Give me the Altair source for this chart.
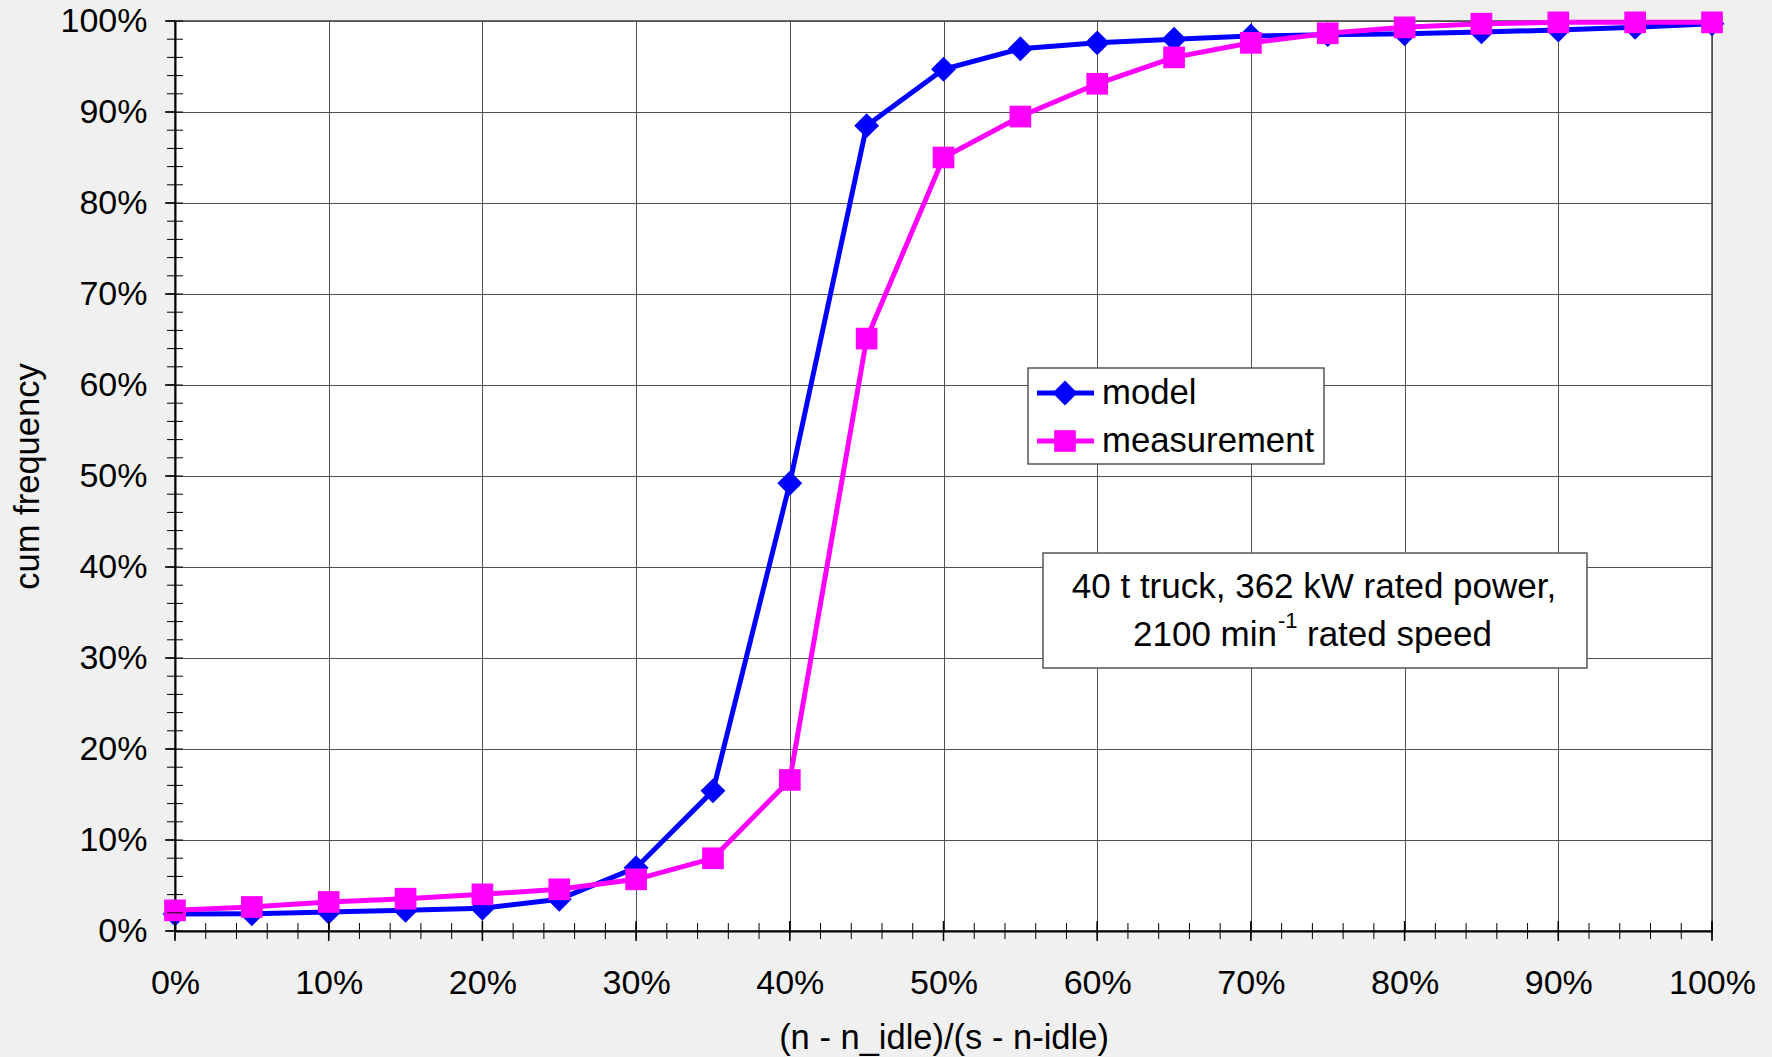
import altair as alt
import pandas as pd

# ---- data ----
x_share = [0.00, 0.05, 0.10, 0.15, 0.20, 0.25, 0.30, 0.35, 0.40, 0.45, 0.50,
           0.55, 0.60, 0.65, 0.70, 0.75, 0.80, 0.85, 0.90, 0.95, 1.00]
model = [0.0187, 0.0190, 0.0209, 0.0227, 0.0249, 0.0348, 0.0696, 0.154, 0.492, 0.885, 0.947,
         0.9695, 0.976, 0.980, 0.9835, 0.985, 0.986, 0.988, 0.990, 0.993, 0.997]
measurement = [0.0227, 0.0264, 0.0319, 0.0355, 0.0403, 0.0458, 0.0568, 0.0799, 0.166, 0.651, 0.850,
               0.895, 0.931, 0.960, 0.976, 0.9865, 0.993, 0.997, 0.9985, 0.9985, 0.9985]
series_names = ["model", "measurement"]
series_colors = ["#0000FF", "#FF00FF"]
series_shapes = ["diamond", "square"]

major_ticks = [i / 10 for i in range(11)]
minor_ticks = [i / 50 for i in range(51)]

x_title = "(n - n_idle)/(s - n-idle)"
y_title = "cum frequency"
note_line1 = "40 t truck, 362 kW rated power,"
note_line2a = "2100 min"
note_sup = "-1"
note_line2b = "rated speed"

FONT = "Liberation Sans"
W, H = 1537, 910
SIZES = {"diamond": 620, "square": 470}

df = pd.DataFrame({
    "x": x_share * 2,
    "y": model + measurement,
    "series": [series_names[0]] * len(model) + [series_names[1]] * len(measurement),
})
one = pd.DataFrame({"a": [0]})
df_major = pd.DataFrame({"x": major_ticks, "y": major_ticks})
df_minor = pd.DataFrame({"x": minor_ticks, "y": minor_ticks})

xscale = alt.Scale(domain=[0, 1], nice=False, zero=False)
yscale = alt.Scale(domain=[0, 1], nice=False, zero=False)

xaxis = alt.Axis(values=major_ticks, format=".0%", title=x_title, grid=True, ticks=False,
                 labelFontSize=34, labelFont=FONT, labelColor="black", labelPadding=35,
                 labelOverlap=False, labelFlush=False, labelBound=False,
                 titleFont=FONT, titleFontSize=34.5, titleFontWeight="normal", titleColor="black",
                 titleX=W / 2, titleY=107, titleBaseline="middle", titleAlign="center",
                 domainColor="black", domainWidth=2, gridColor="#505050", gridWidth=1)
yaxis = alt.Axis(values=major_ticks, format=".0%", title=y_title, grid=True, ticks=False,
                 labelFontSize=34, labelFont=FONT, labelColor="black", labelPadding=28,
                 labelOverlap=False, labelFlush=False, labelBound=False, labelBaseline="middle",
                 titleFont=FONT, titleFontSize=34.5, titleFontWeight="normal", titleColor="black",
                 titleX=-147, titleY=H / 2, titleAngle=270, titleBaseline="middle", titleAlign="center",
                 domainColor="black", domainWidth=2, gridColor="#505050", gridWidth=1)

X = alt.X("x:Q", scale=xscale, axis=xaxis)
Y = alt.Y("y:Q", scale=yscale, axis=yaxis)

base = alt.Chart(df).encode(x=X, y=Y)

layers = []
for name, col, shp in zip(series_names, series_colors, series_shapes):
    sub = base.transform_filter(alt.datum.series == name)
    layers.append(sub.mark_line(color=col, strokeWidth=5))
    layers.append(sub.mark_point(color=col, filled=True, opacity=1, shape=shp, size=SIZES[shp]))

# axis ticks (minor every 2 %, major every 10 %)
tick_x_minor = alt.Chart(df_minor).mark_rule(color="black", strokeWidth=1).encode(
    x=X, y=alt.value(H - 8), y2=alt.value(H + 8))
tick_x_major = alt.Chart(df_major).mark_rule(color="black", strokeWidth=1.5).encode(
    x=X, y=alt.value(H - 10), y2=alt.value(H + 10))
tick_y_minor = alt.Chart(df_minor).mark_rule(color="black", strokeWidth=1).encode(
    y=Y, x=alt.value(-8), x2=alt.value(8))
tick_y_major = alt.Chart(df_major).mark_rule(color="black", strokeWidth=1.5).encode(
    y=Y, x=alt.value(-10), x2=alt.value(0))

# legend
leg_box = alt.Chart(one).mark_rect(fill="white", stroke="#555555", strokeWidth=1.5).encode(
    x=alt.value(853), x2=alt.value(1149), y=alt.value(347), y2=alt.value(443))
leg_layers = [leg_box]
for i, (name, col, shp) in enumerate(zip(series_names, series_colors, series_shapes)):
    yy = 372 + 48 * i
    leg_layers.append(alt.Chart(one).mark_rule(color=col, strokeWidth=5).encode(
        x=alt.value(862), x2=alt.value(919), y=alt.value(yy)))
    leg_layers.append(alt.Chart(one).mark_point(color=col, filled=True, opacity=1, shape=shp,
                                                size=SIZES[shp]).encode(
        x=alt.value(890), y=alt.value(yy)))
    leg_layers.append(alt.Chart(one).mark_text(align="left", baseline="middle", font=FONT,
                                               fontSize=34.7, color="black").encode(
        x=alt.value(927), y=alt.value(yy + 1), text=alt.value(name)))

# annotation
note_box = alt.Chart(one).mark_rect(fill="white", stroke="#555555", strokeWidth=1.5).encode(
    x=alt.value(868), x2=alt.value(1412), y=alt.value(532), y2=alt.value(647))
note1 = alt.Chart(one).mark_text(align="center", baseline="middle", font=FONT, fontSize=35,
                                 color="black").encode(
    x=alt.value(1139), y=alt.value(566), text=alt.value(note_line1))
note2a = alt.Chart(one).mark_text(align="right", baseline="middle", font=FONT, fontSize=35,
                                  color="black").encode(
    x=alt.value(1102), y=alt.value(614), text=alt.value(note_line2a))
note2s = alt.Chart(one).mark_text(align="left", baseline="middle", font=FONT, fontSize=22,
                                  color="black").encode(
    x=alt.value(1103), y=alt.value(600), text=alt.value(note_sup))
note2b = alt.Chart(one).mark_text(align="left", baseline="middle", font=FONT, fontSize=35,
                                  color="black").encode(
    x=alt.value(1132), y=alt.value(614), text=alt.value(note_line2b))

chart = alt.layer(
    *layers, tick_x_minor, tick_x_major, tick_y_minor, tick_y_major,
    *leg_layers, note_box, note1, note2a, note2s, note2b
).properties(
    width=W, height=H,
    padding={"left": 175, "top": 21, "right": 60, "bottom": 126},
    autosize=alt.AutoSizeParams(type="none"),
    background="#F0F0F0",
).configure_view(fill="white", stroke="#404040", strokeWidth=1.5)

chart.save("out.html", embed_options={"renderer": "svg", "actions": False})
